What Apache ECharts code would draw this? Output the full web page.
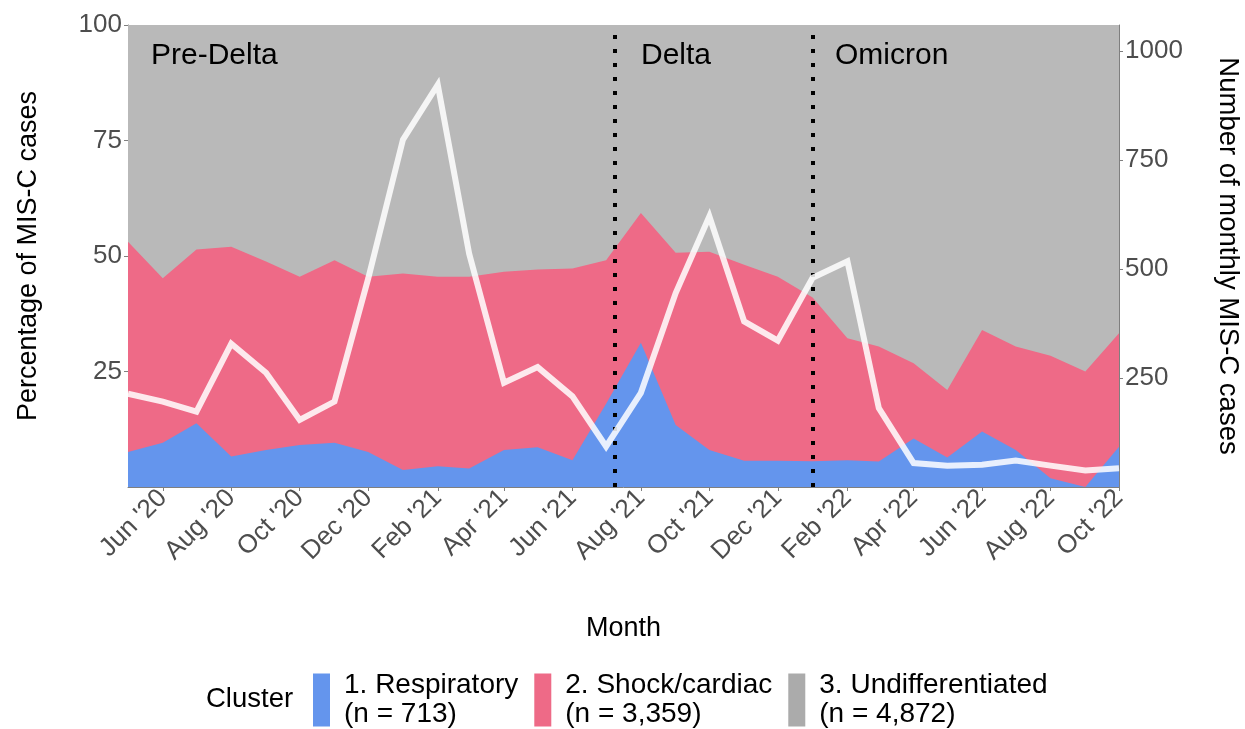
<!DOCTYPE html>
<html>
<head>
<meta charset="utf-8">
<script src="https://cdn.jsdelivr.net/npm/echarts@6/dist/echarts.min.js"></script>
<style>
  html, body { margin: 0; padding: 0; background: #ffffff; }
  #chart { width: 1245px; height: 729px; }
</style>
</head>
<body>
<div id="chart"></div>
<script>
// ---- Data ----
const months = ['2020-05','2020-06','2020-07','2020-08','2020-09','2020-10','2020-11','2020-12',
  '2021-01','2021-02','2021-03','2021-04','2021-05','2021-06','2021-07','2021-08','2021-09','2021-10','2021-11','2021-12',
  '2022-01','2022-02','2022-03','2022-04','2022-05','2022-06','2022-07','2022-08','2022-09','2022-10'];

// Percentage of MIS-C cases per cluster (sum to 100 each month)
const respiratoryPct = [7.6, 9.6, 13.8, 6.6, 8.0, 9.1, 9.6, 7.6, 3.7, 4.5, 4.0, 8.0, 8.6, 5.8, 18.0,
  31.2, 13.4, 8.0, 5.7, 5.7, 5.6, 5.8, 5.5, 10.5, 6.4, 12.0, 8.0, 1.9, 0.0, 8.7];
const shockPct = [45.5, 35.6, 37.6, 45.4, 40.8, 36.4, 39.5, 37.9, 42.5, 41.0, 41.5, 38.6, 38.5, 41.5, 31.1,
  28.1, 37.3, 42.9, 42.4, 39.8, 35.4, 26.4, 24.9, 16.3, 14.6, 22.0, 22.4, 26.5, 25.0, 24.6];
const undiffPct = [46.9, 54.8, 48.6, 48.0, 51.2, 54.5, 50.9, 54.5, 53.8, 54.5, 54.5, 53.4, 52.9, 52.7, 50.9,
  40.7, 49.3, 49.1, 51.9, 54.5, 59.0, 67.8, 69.6, 73.2, 79.0, 66.0, 69.6, 71.6, 75.0, 66.7];

// Number of monthly MIS-C cases (right axis)
const monthlyCases = [214, 196, 173, 329, 262, 154, 196, 478, 797, 923, 535, 239, 275, 208, 93,
  216, 445, 621, 380, 336, 480, 518, 181, 55, 49, 51, 61, 49, 38, 43];

// Tick labels
const xTickMonths = ['2020-06','2020-08','2020-10','2020-12','2021-02','2021-04','2021-06','2021-08',
  '2021-10','2021-12','2022-02','2022-04','2022-06','2022-08','2022-10'];
const pctTicks = [25, 50, 75, 100];
const caseTicks = [250, 500, 750, 1000];

// Variant periods
const eraNames = ['Pre-Delta', 'Delta', 'Omicron'];
const eraBoundaries = ['2021-07-09', '2022-01-01'];

const clusterNames = ['1. Respiratory\n(n = 713)', '2. Shock/cardiac\n(n = 3,359)', '3. Undifferentiated\n(n = 4,872)'];
const monthAbbr = ['Jan','Feb','Mar','Apr','May','Jun','Jul','Aug','Sep','Oct','Nov','Dec'];

// ---- Helpers ----
function ts(s) {
  const p = s.split('-').map(Number);
  return Date.UTC(p[0], p[1] - 1, p[2] || 1);
}
const xs = months.map(ts);
const pairs = arr => arr.map((v, i) => [xs[i], v]);

// cumulative tops of the stacked percentage bands
const topResp = respiratoryPct.map(v => +v.toFixed(2));
const topShock = respiratoryPct.map((v, i) => +(v + shockPct[i]).toFixed(2));
const topUndiff = respiratoryPct.map((v, i) => +(v + shockPct[i] + undiffPct[i]).toFixed(2));

const FONT = '"Liberation Sans", Arial, sans-serif';
const colors = { resp: '#6495ED', shock: '#EE6A87', undiff: '#B9B9B9' };

const chart = echarts.init(document.getElementById('chart'), null, { renderer: 'canvas' });

function areaSeries(name, data, color, z) {
  return {
    name: name, type: 'line', data: pairs(data),
    symbol: 'none', smooth: false,
    lineStyle: { width: 0, color: color },
    itemStyle: { color: color },
    areaStyle: { color: color, opacity: 1, origin: 'start' },
    z: z
  };
}

const tickStyle = { fontSize: 26, color: '#4D4D4D', fontFamily: FONT };
function eraText(text, x) {
  return { type: 'text', z: 100,
    style: { text: text, x: x, y: 56, fontSize: 30, fontFamily: FONT, fill: '#000', verticalAlign: 'middle' } };
}

const option = {
  animation: false,
  backgroundColor: '#ffffff',
  textStyle: { fontFamily: FONT },
  grid: { left: 128, right: 126, top: 25, bottom: 242, containLabel: false, outerBoundsMode: 'none' },
  xAxis: {
    type: 'value',
    min: ts(months[0]),
    max: ts(months[months.length - 1]),
    splitLine: { show: false },
    axisLine: { show: true, onZero: false, lineStyle: { color: '#7f7f7f', width: 1 } },
    axisTick: { show: true, customValues: xTickMonths.map(ts), length: 4, lineStyle: { color: '#7f7f7f' } },
    axisLabel: Object.assign({
      customValues: xTickMonths.map(ts),
      rotate: 45, margin: 7,
      formatter: function (v) {
        const d = new Date(v);
        return monthAbbr[d.getUTCMonth()] + " '" + String(d.getUTCFullYear()).slice(2);
      }
    }, tickStyle),
    name: 'Month', nameLocation: 'middle', nameGap: 128,
    nameTextStyle: { fontSize: 27, color: '#000000', fontFamily: FONT }
  },
  yAxis: [{
    type: 'value', min: 0, max: 100, interval: 25,
    splitLine: { show: false },
    axisLine: { show: true, lineStyle: { color: '#7f7f7f', width: 1 } },
    axisTick: { show: true, customValues: pctTicks, length: 4, lineStyle: { color: '#7f7f7f' } },
    axisLabel: Object.assign({ customValues: pctTicks, margin: 6 }, tickStyle),
    name: 'Percentage of MIS-C cases', nameLocation: 'middle', nameRotate: 90, nameGap: 86,
    nameTextStyle: { fontSize: 27, color: '#000000', fontFamily: FONT }
  }, {
    type: 'value', min: 0, max: 1060, position: 'right',
    splitLine: { show: false },
    axisLine: { show: true, lineStyle: { color: '#7f7f7f', width: 1 } },
    axisTick: { show: true, customValues: caseTicks, length: 4, lineStyle: { color: '#7f7f7f' } },
    axisLabel: Object.assign({ customValues: caseTicks, margin: 6, formatter: v => String(v) }, tickStyle),
    name: 'Number of monthly MIS-C cases', nameLocation: 'middle', nameRotate: -90, nameGap: 95,
    nameTextStyle: { fontSize: 27.5, color: '#000000', fontFamily: FONT }
  }],
  legend: {
    data: clusterNames.map((n, i) => i === 2 ? { name: n, itemStyle: { color: '#ABABAB' } } : n),
    left: 313, top: 671, padding: 0,
    orient: 'horizontal',
    icon: 'rect', itemWidth: 17, itemHeight: 53, itemGap: 16,
    textStyle: { fontSize: 28, lineHeight: 29, color: '#000000', fontFamily: FONT, padding: [0, 0, 0, 9] },
    selectedMode: false
  },
  graphic: [
    { type: 'text', z: 100, style: { text: 'Cluster', x: 206, y: 699, fontSize: 27.5, fontFamily: FONT, fill: '#000', verticalAlign: 'middle' } },
    eraText(eraNames[0], 151),
    eraText(eraNames[1], 641),
    eraText(eraNames[2], 835)
  ],
  series: [
    areaSeries(clusterNames[2], topUndiff, colors.undiff, 1),
    areaSeries(clusterNames[1], topShock, colors.shock, 2),
    areaSeries(clusterNames[0], topResp, colors.resp, 3),
    {
      name: 'Monthly cases', type: 'line', yAxisIndex: 1, data: pairs(monthlyCases),
      symbol: 'none', smooth: false, z: 5,
      lineStyle: { color: 'rgba(255,255,255,0.85)', width: 6, join: 'miter' }
    },
    {
      name: 'Era boundaries', type: 'line', data: [], z: 6,
      markLine: {
        silent: true, symbol: 'none', label: { show: false },
        lineStyle: { color: '#000000', width: 4, type: [4, 10], cap: 'butt', opacity: 1 },
        data: eraBoundaries.map(d => ({ xAxis: ts(d) }))
      }
    }
  ]
};
chart.setOption(option);
</script>
</body>
</html>
